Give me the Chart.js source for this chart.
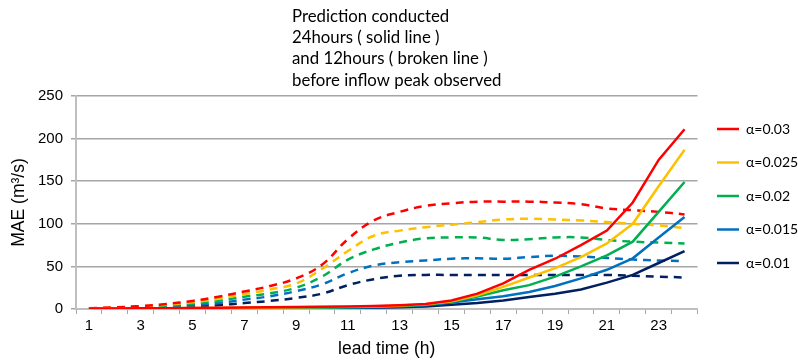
<!DOCTYPE html>
<html>
<head>
<meta charset="utf-8">
<script src="https://cdn.jsdelivr.net/npm/chart.js@4.4.1/dist/chart.umd.min.js"></script>
<style>
  html, body { margin: 0; padding: 0; background: #fff; }
  #wrap { width: 798px; height: 362px; }
</style>
</head>
<body>
<div id="wrap"><canvas id="mae-chart" width="798" height="362"></canvas></div>
<script>
// lead time categories (h)
const leadTimes = ['1','2','3','4','5','6','7','8','9','10','11','12','13','14','15','16','17','18','19','20','21','22','23','24'];
const alphaLabels = ['α=0.03', 'α=0.025', 'α=0.02', 'α=0.015', 'α=0.01'];
const titleLines = ['Prediction conducted', '24hours ( solid line )', 'and 12hours ( broken line )', 'before inflow peak observed'];

// 24 hours before peak (solid lines)
const solid003  = [0.5, 0.6, 0.8, 1, 1.2, 1.5, 1.8, 2, 2.3, 2.6, 3, 3.5, 4.5, 6, 10, 18, 30, 46, 59, 75, 92, 125, 175, 211];
const solid0025 = [0.4, 0.5, 0.7, 0.9, 1.1, 1.3, 1.5, 1.8, 2, 2.3, 2.6, 3, 4, 5.5, 9, 16, 26, 37, 48, 61, 77, 100, 144, 187];
const solid002  = [0.3, 0.4, 0.5, 0.7, 0.9, 1, 1.2, 1.4, 1.6, 1.8, 2, 2.5, 3.5, 5, 8.5, 14.5, 22, 28, 38, 50, 63, 79, 114, 149];
const solid0015 = [0.2, 0.3, 0.4, 0.5, 0.7, 0.8, 1, 1.1, 1.3, 1.5, 1.7, 2, 3, 4.5, 7.5, 11.5, 15, 20, 27, 36, 46, 59.5, 84, 108];
const solid001  = [0.1, 0.2, 0.3, 0.4, 0.5, 0.6, 0.7, 0.8, 0.9, 1, 1.2, 1.5, 2, 3, 5, 7, 10, 14, 18, 23, 31, 40, 54, 68];

// 12 hours before peak (broken lines)
const broken003  = [1, 2, 3.5, 6, 9.5, 14.5, 20.5, 27, 36, 52, 82, 104, 114, 121, 124, 126, 126, 126, 125, 123, 118, 116, 114, 111];
const broken0025 = [0.8, 1.6, 3, 5, 8, 12, 17.5, 23, 30, 47, 68, 86, 92, 96, 99, 102, 105, 106, 105, 104, 102, 100, 98, 95];
const broken002  = [0.6, 1.2, 2.3, 4, 6.5, 9.5, 14.5, 18.5, 25, 38, 58, 70, 78, 83, 84, 84, 81, 82, 84, 84, 81, 79, 78, 77];
const broken0015 = [0.4, 0.9, 1.8, 3, 4.5, 7, 11, 15, 21, 29, 42, 51, 55, 57, 59, 59.5, 59, 61, 62.5, 61.5, 60, 58, 57, 56];
const broken001  = [0.3, 0.6, 1, 1.8, 3, 4.5, 7, 9.5, 13, 18, 28, 35, 39, 40, 40, 40, 40, 40, 40, 40, 40, 39, 38, 37];

const colors = ['#ff0000', '#ffc000', '#00b050', '#0070c0', '#002060'];
const solidSeries = [solid003, solid0025, solid002, solid0015, solid001];
const brokenSeries = [broken003, broken0025, broken002, broken0015, broken001];

const datasets = [];
solidSeries.forEach((d, i) => {
    datasets.push({
        label: alphaLabels[i],
        data: d,
        borderColor: colors[i],
        backgroundColor: colors[i],
        borderWidth: 2.5,
        pointRadius: 0,
        tension: 0
    });
});
brokenSeries.forEach((d, i) => {
    datasets.push({
        label: alphaLabels[i] + ' (12h)',
        data: d,
        borderColor: colors[i],
        backgroundColor: colors[i],
        borderWidth: 2.5,
        borderDash: [8, 6],
        pointRadius: 0,
        tension: 0.4
    });
});

// left aligned note at the top
const noteTitle = {
    id: 'noteTitle',
    afterDraw(chart) {
        const ctx = chart.ctx;
        ctx.save();
        ctx.fillStyle = '#000';
        ctx.font = '16.8px Lato';
        ctx.textAlign = 'left';
        ctx.textBaseline = 'middle';
        titleLines.forEach((t, i) => ctx.fillText(t, 292, 16.5 + i * 21.2));
        ctx.restore();
    }
};

const gridGray = '#a6a6a6';

new Chart(document.getElementById('mae-chart'), {
    type: 'line',
    data: { labels: leadTimes, datasets: datasets },
    options: {
        responsive: false,
        animation: false,
        layout: { padding: { top: 96, right: 0, left: 0, bottom: 0 } },
        plugins: {
            title: { display: false },
            tooltip: { enabled: false },
            legend: {
                display: true,
                position: 'right',
                align: 'start',
                maxWidth: 100.5,
                title: { display: true, text: ' ', font: { size: 6.5, lineHeight: 1 }, padding: 0 },
                labels: {
                    usePointStyle: true,
                    pointStyle: 'line',
                    pointStyleWidth: 22,
                    padding: 19.5,
                    color: '#000',
                    font: { family: 'Lato', size: 14 },
                    filter: item => item.datasetIndex < 5
                }
            }
        },
        scales: {
            x: {
                offset: true,
                afterFit: s => { s.height = 53; },
                grid: { display: true, drawOnChartArea: false, drawTicks: true, tickLength: 5, color: gridGray, offset: true },
                border: { display: true, color: '#bfbfbf', width: 2 },
                ticks: {
                    autoSkip: false,
                    maxRotation: 0,
                    color: '#000',
                    padding: 3,
                    font: { family: 'Liberation Sans', size: 15 },
                    callback: (v, i) => (i % 2 === 0 ? leadTimes[i] : '')
                },
                title: { display: true, text: 'lead time (h)', color: '#000', font: { family: 'Liberation Sans', size: 17.5 }, padding: { top: 0, bottom: 2 } }
            },
            y: {
                min: 0,
                max: 250,
                afterFit: s => { s.width = 76; },
                grid: { color: gridGray, lineWidth: 1.5, tickLength: 5 },
                border: { display: true, color: '#bfbfbf', width: 2 },
                ticks: {
                    stepSize: 50,
                    color: '#000',
                    padding: 8,
                    font: { family: 'Liberation Sans', size: 15 }
                },
                title: { display: true, text: 'MAE (m³/s)', color: '#000', font: { family: 'Liberation Sans', size: 17.5 }, padding: { top: 9, bottom: 0 } }
            }
        }
    },
    plugins: [noteTitle]
});
</script>
</body>
</html>
